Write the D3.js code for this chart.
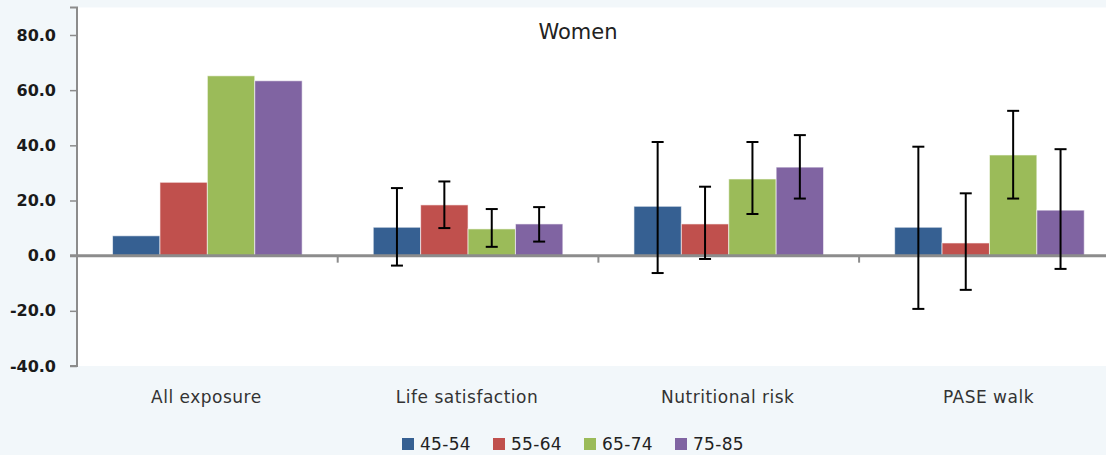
<!DOCTYPE html>
<html><head><meta charset="utf-8">
<script src="https://cdn.jsdelivr.net/npm/d3@7"></script>
<style>
html,body{margin:0;padding:0;background:#f2f7fa;}
svg{display:block;}
</style></head>
<body><svg id="c" width="1106" height="455"></svg>
<script>
const categories = ["All exposure","Life satisfaction","Nutritional risk","PASE walk"];
const seriesNames = ["45-54","55-64","65-74","75-85"];
const colors = ["#366092","#c0504d","#9bbb59","#8064a2"];
const v45 = [7.2, 10.3, 17.9, 10.3];
const v55 = [26.6, 18.4, 11.5, 4.6];
const v65 = [65.2, 9.7, 27.8, 36.5];
const v75 = [63.4, 11.5, 32.1, 16.5];
const lo45 = [null, -3.6, -6.3, -19.3];
const hi45 = [null, 24.5, 41.2, 39.5];
const lo55 = [null, 10.0, -1.2, -12.4];
const hi55 = [null, 26.9, 25.0, 22.6];
const lo65 = [null, 3.2, 15.1, 20.7];
const hi65 = [null, 16.9, 41.2, 52.5];
const lo75 = [null, 5.1, 20.7, -4.8];
const hi75 = [null, 17.6, 43.7, 38.6];
const yTicks = [-40,-20,0,20,40,60,80];
const title = "Women";

const values = [v45, v55, v65, v75];
const lows = [lo45, lo55, lo65, lo75];
const highs = [hi45, hi55, hi65, hi75];

const svg = d3.select("#c");
const x0 = 77, catW = 260.7;
const x = d3.scaleBand().domain(categories).range([x0, x0 + catW*categories.length]).paddingInner(0).paddingOuter(0);
const y = d3.scaleLinear().domain([-40, 90]).range([366, 7.4]);
const barW = catW / 5.5;

// plot area
svg.append("rect").attr("x", x0).attr("y", 7.5).attr("width", 1106 - x0).attr("height", 366 - 7.5).attr("fill", "#ffffff");

// title
svg.append("text").attr("x", 578).attr("y", 39).attr("text-anchor", "middle")
  .attr("font-family", "DejaVu Sans").attr("font-size", 21).attr("fill", "#222").text(title);

// bars
values.forEach((vals, s) => {
  svg.append("g").selectAll("rect").data(categories).join("rect")
    .attr("x", c => x(c) + 0.75*barW + s*barW)
    .attr("width", barW)
    .attr("y", (c,i) => y(Math.max(0, vals[i])))
    .attr("height", (c,i) => Math.abs(y(vals[i]) - y(0)))
    .attr("fill", colors[s])
    .attr("stroke", "rgba(255,255,255,0.6)").attr("stroke-width", 1);
});

// y axis
const fmt = d => d3.format(".1f")(d).replace("\u2212", "-");
const yAxis = d3.axisLeft(y).tickValues(yTicks).tickFormat(fmt).tickSize(7).tickPadding(14);
const ga = svg.append("g").attr("transform", `translate(${x0},0)`).call(yAxis);
ga.select(".domain").attr("stroke", "#8c8c8c").attr("stroke-width", 2).attr("d", `M-7,${y(90)}H0V${y(-40)}H-7`);
ga.selectAll(".tick line").attr("stroke", "#8c8c8c").attr("stroke-width", 1.5);
ga.selectAll(".tick text").attr("font-family", "DejaVu Sans").attr("font-weight", "bold")
  .attr("font-size", 16).attr("fill", "#1a1a1a");

// zero line with category ticks
const bounds = d3.range(categories.length + 1).map(i => x0 + i*catW);
svg.append("g").selectAll("line").data(bounds).join("line")
  .attr("x1", d => d).attr("x2", d => d).attr("y1", y(0)).attr("y2", y(0) + 7)
  .attr("stroke", "#8c8c8c").attr("stroke-width", 2);
svg.append("line").attr("x1", x0 - 7).attr("x2", 1106).attr("y1", y(0)).attr("y2", y(0))
  .attr("stroke", "#8c8c8c").attr("stroke-width", 3);

// category labels
svg.append("g").selectAll("text").data(categories).join("text")
  .attr("x", c => x(c) + catW/2 - 1).attr("y", 403).attr("text-anchor", "middle")
  .attr("font-family", "DejaVu Sans").attr("font-size", 17).attr("letter-spacing", 0.5).attr("fill", "#333")
  .text(c => c);

// error bars
values.forEach((vals, s) => {
  const g = svg.append("g").attr("stroke", "#000").attr("stroke-width", 2);
  categories.forEach((c, i) => {
    const lo = lows[s][i], hi = highs[s][i];
    if (lo === null || hi === null) return;
    const cx = x(c) + 0.75*barW + s*barW + barW/2;
    g.append("line").attr("x1", cx).attr("x2", cx).attr("y1", y(lo)).attr("y2", y(hi));
    g.append("line").attr("x1", cx-6).attr("x2", cx+6).attr("y1", y(lo)).attr("y2", y(lo));
    g.append("line").attr("x1", cx-6).attr("x2", cx+6).attr("y1", y(hi)).attr("y2", y(hi));
  });
});

// legend
const leg = svg.append("g");
seriesNames.forEach((n, i) => {
  const lx = 402 + i*91;
  leg.append("rect").attr("x", lx).attr("y", 438).attr("width", 12).attr("height", 12).attr("fill", colors[i]);
  leg.append("text").attr("x", lx + 18).attr("y", 450).attr("font-family", "DejaVu Sans")
    .attr("font-size", 17).attr("letter-spacing", 0.3).attr("fill", "#222").text(n);
});
</script></body></html>
